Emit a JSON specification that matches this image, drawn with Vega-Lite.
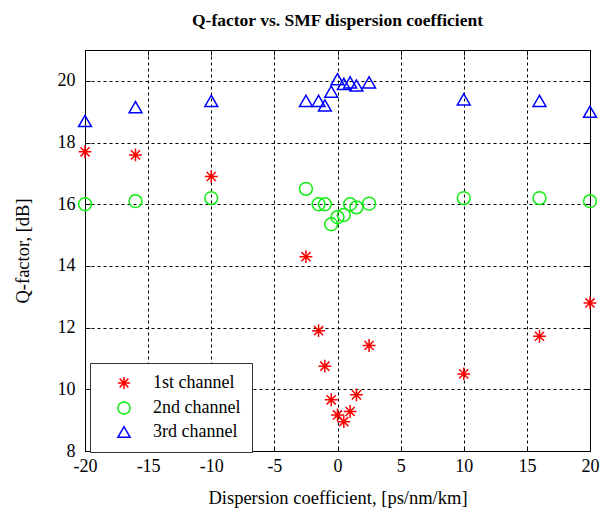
{
  "$schema": "https://vega.github.io/schema/vega-lite/v6.json",
  "autosize": {"type": "none"},
  "padding": {"left": 85, "top": 50, "right": 10, "bottom": 57},
  "width": 505,
  "height": 401,
  "title": {"text": "Q-factor vs. SMF dispersion coefficient", "font": "Liberation Serif", "fontSize": 17.5, "fontWeight": "bold", "color": "#000", "offset": 20, "anchor": "middle"},
  "config": {
    "view": {"stroke": "#000", "strokeWidth": 1},
    "axis": {"labelFont": "Liberation Serif", "titleFont": "Liberation Serif", "labelFontSize": 18, "titleFontSize": 18.5, "titleFontWeight": "normal", "labelColor": "#000", "titleColor": "#000", "domainColor": "#000", "tickColor": "#000", "gridColor": "#000", "gridDash": [3, 3], "gridOpacity": 1, "gridWidth": 1, "tickSize": -5, "labelPadding": 13, "labelFlush": false, "labelExpr": "toString(datum.value)"}
  },
  "data": {"values": [
    {"x": -20, "q": 17.7, "ch": "1st channel"},
    {"x": -16, "q": 17.6, "ch": "1st channel"},
    {"x": -10, "q": 16.9, "ch": "1st channel"},
    {"x": -2.5, "q": 14.3, "ch": "1st channel"},
    {"x": -1.5, "q": 11.9, "ch": "1st channel"},
    {"x": -1, "q": 10.75, "ch": "1st channel"},
    {"x": -0.5, "q": 9.66, "ch": "1st channel"},
    {"x": 0, "q": 9.17, "ch": "1st channel"},
    {"x": 0.5, "q": 8.95, "ch": "1st channel"},
    {"x": 1, "q": 9.28, "ch": "1st channel"},
    {"x": 1.5, "q": 9.82, "ch": "1st channel"},
    {"x": 2.5, "q": 11.42, "ch": "1st channel"},
    {"x": 10, "q": 10.5, "ch": "1st channel"},
    {"x": 16, "q": 11.72, "ch": "1st channel"},
    {"x": 20, "q": 12.8, "ch": "1st channel"},
    {"x": -20, "q": 16.0, "ch": "2nd channel"},
    {"x": -16, "q": 16.1, "ch": "2nd channel"},
    {"x": -10, "q": 16.2, "ch": "2nd channel"},
    {"x": -2.5, "q": 16.5, "ch": "2nd channel"},
    {"x": -1.5, "q": 16.0, "ch": "2nd channel"},
    {"x": -1, "q": 16.0, "ch": "2nd channel"},
    {"x": -0.5, "q": 15.35, "ch": "2nd channel"},
    {"x": 0, "q": 15.58, "ch": "2nd channel"},
    {"x": 0.5, "q": 15.65, "ch": "2nd channel"},
    {"x": 1, "q": 16.0, "ch": "2nd channel"},
    {"x": 1.5, "q": 15.9, "ch": "2nd channel"},
    {"x": 2.5, "q": 16.02, "ch": "2nd channel"},
    {"x": 10, "q": 16.2, "ch": "2nd channel"},
    {"x": 16, "q": 16.2, "ch": "2nd channel"},
    {"x": 20, "q": 16.1, "ch": "2nd channel"},
    {"x": -20, "q": 18.7, "ch": "3rd channel"},
    {"x": -16, "q": 19.15, "ch": "3rd channel"},
    {"x": -10, "q": 19.35, "ch": "3rd channel"},
    {"x": -2.5, "q": 19.35, "ch": "3rd channel"},
    {"x": -1.5, "q": 19.35, "ch": "3rd channel"},
    {"x": -1, "q": 19.2, "ch": "3rd channel"},
    {"x": -0.5, "q": 19.65, "ch": "3rd channel"},
    {"x": 0, "q": 20.05, "ch": "3rd channel"},
    {"x": 0.5, "q": 19.9, "ch": "3rd channel"},
    {"x": 1, "q": 19.95, "ch": "3rd channel"},
    {"x": 1.5, "q": 19.85, "ch": "3rd channel"},
    {"x": 2.5, "q": 19.95, "ch": "3rd channel"},
    {"x": 10, "q": 19.4, "ch": "3rd channel"},
    {"x": 16, "q": 19.35, "ch": "3rd channel"},
    {"x": 20, "q": 19.0, "ch": "3rd channel"}
  ]},
  "resolve": {"axis": {"x": "independent", "y": "independent"}},
  "layer": [
    {
      "mark": {"type": "point", "filled": false, "strokeWidth": 1.5, "opacity": 1, "size": 165},
      "encoding": {
        "x": {"field": "x", "type": "quantitative", "scale": {"domain": [-20, 20], "nice": false, "zero": false},
          "axis": {"title": "Dispersion coefficient, [ps/nm/km]", "values": [-20, -15, -10, -5, 0, 5, 10, 15, 20], "titlePadding": 13, "labelPadding": 11}},
        "y": {"field": "q", "type": "quantitative", "scale": {"domain": [8, 21], "nice": false, "zero": false},
          "axis": {"title": "Q-factor, [dB]", "values": [8, 10, 12, 14, 16, 18, 20], "titlePadding": 25, "labelPadding": 15}},
        "shape": {"field": "ch", "type": "nominal", "scale": {"domain": ["1st channel", "2nd channel", "3rd channel"], "range": ["M0,-1L0,1M-1,0L1,0M-0.71,-0.71L0.71,0.71M-0.71,0.71L0.71,-0.71", "circle", "triangle-up"]},
          "legend": {"title": null, "orient": "none", "legendX": 5, "legendY": 313, "labelFont": "Liberation Serif", "labelFontSize": 18, "labelColor": "#000", "strokeColor": "#333", "fillColor": "#fff", "padding": 11, "rowPadding": 5, "labelOffset": 20, "symbolOffset": 14, "symbolSize": 150, "symbolStrokeWidth": 1.5}},
        "color": {"field": "ch", "type": "nominal", "scale": {"domain": ["1st channel", "2nd channel", "3rd channel"], "range": ["#ff0000", "#11ee11", "#0000ff"]},
          "legend": {"title": null, "orient": "none", "legendX": 5, "legendY": 313, "labelFont": "Liberation Serif", "labelFontSize": 18, "labelColor": "#000", "strokeColor": "#333", "fillColor": "#fff", "padding": 11, "rowPadding": 5, "labelOffset": 20, "symbolOffset": 14, "symbolSize": 150, "symbolStrokeWidth": 1.5}}
      }
    },
    {
      "mark": {"type": "point", "opacity": 0},
      "encoding": {
        "x": {"field": "x", "type": "quantitative", "scale": {"domain": [-20, 20], "nice": false, "zero": false}, "axis": {"orient": "top", "labels": false, "grid": false, "title": null, "values": [-20, -15, -10, -5, 0, 5, 10, 15, 20]}},
        "y": {"field": "q", "type": "quantitative", "scale": {"domain": [8, 21], "nice": false, "zero": false}, "axis": {"orient": "right", "labels": false, "grid": false, "title": null, "values": [8, 10, 12, 14, 16, 18, 20]}}
      }
    }
  ]
}
